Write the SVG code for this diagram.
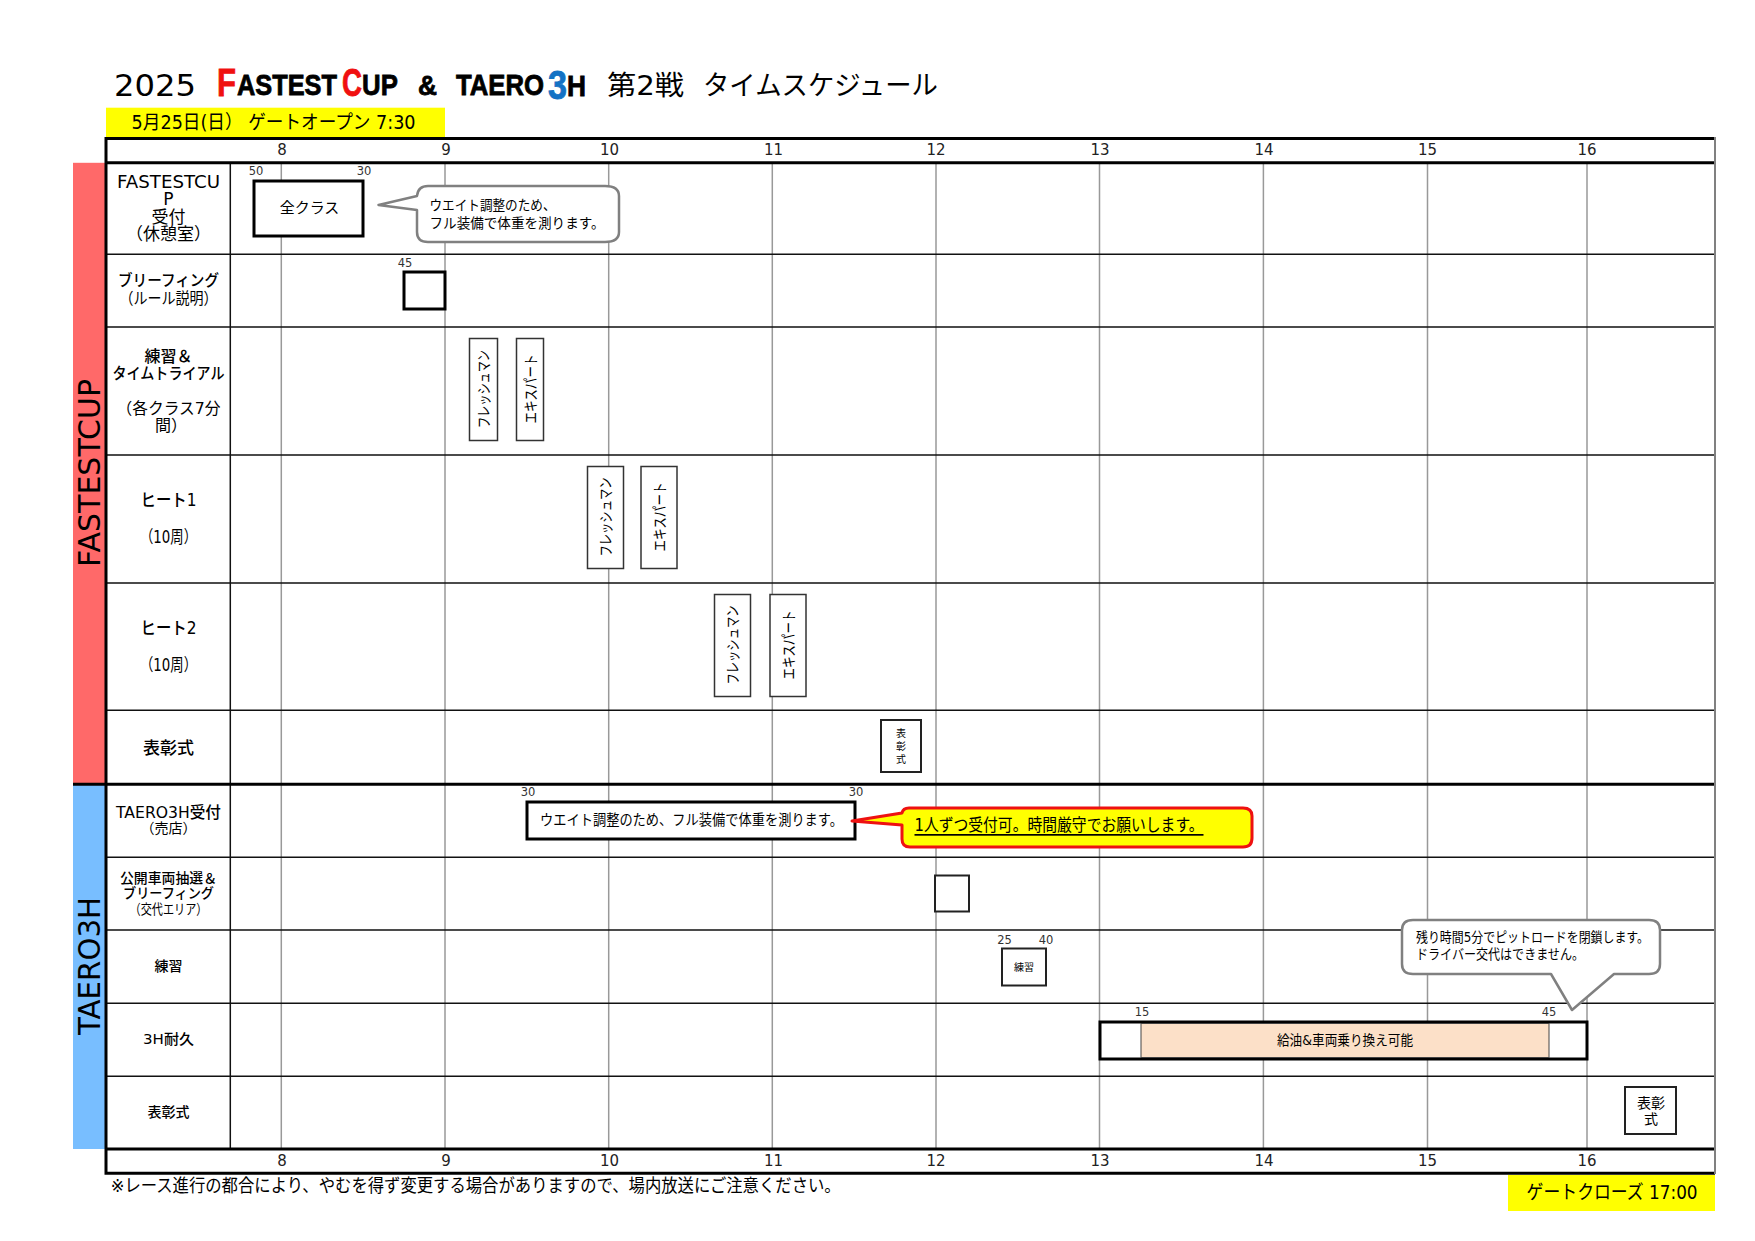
<svg xmlns="http://www.w3.org/2000/svg" width="1755" height="1241" viewBox="0 0 1755 1241">
<style>
text{font-family:"DejaVu Sans","Noto Sans CJK JP",sans-serif;fill:#000;dominant-baseline:central}
.c{text-anchor:middle}
.hr{font-size:15px;text-anchor:middle;fill:#222}
.m{font-size:11.5px;text-anchor:middle;fill:#333}
.lab{font-size:17px;text-anchor:middle}
.labb{font-size:16px;text-anchor:middle;font-weight:500}
.sm{font-size:14px;text-anchor:middle}
.v{font-size:15px;text-anchor:middle}
.row{stroke:#111;stroke-width:1.5;fill:none}
.hg{stroke:#999;stroke-width:1.5;fill:none}
.th{stroke:#000;stroke-width:3;fill:none}
.b3{fill:#fff;stroke:#000;stroke-width:3}
.b1{fill:#fff;stroke:#333;stroke-width:1.5}
.b2{fill:#fff;stroke:#222;stroke-width:2}
.call{fill:#fff;stroke:#808080;stroke-width:2.5;stroke-linejoin:round}
.tt{font-family:"Liberation Sans",sans-serif;font-weight:700;stroke:#000;stroke-width:.8}
</style>
<rect width="1755" height="1241" fill="#fff"/>
<g id="title">
<text x="114" y="85" font-size="30" textLength="82" lengthAdjust="spacingAndGlyphs">2025</text>
<text x="217" y="83" class="tt" font-size="38" style="fill:#f01010;stroke:#f01010" textLength="19" lengthAdjust="spacingAndGlyphs">F</text>
<text transform="translate(237 85) scale(.845 1)" class="tt" font-size="30">ASTEST</text>
<text x="342" y="83" class="tt" font-size="38" style="fill:#f01010;stroke:#f01010" textLength="20" lengthAdjust="spacingAndGlyphs">C</text>
<text transform="translate(362 85) scale(.86 1)" class="tt" font-size="30">UP</text>
<text x="418" y="85" class="tt" font-size="28" textLength="19" lengthAdjust="spacingAndGlyphs">&amp;</text>
<text transform="translate(456 85) scale(.857 1)" class="tt" font-size="30">TAERO</text>
<text x="548" y="85" class="tt" font-size="40" style="fill:#1472c4;stroke:#1472c4" textLength="19" lengthAdjust="spacingAndGlyphs">3</text>
<text x="567" y="85" class="tt" font-size="30" textLength="19" lengthAdjust="spacingAndGlyphs">H</text>
<text x="607" y="85" font-size="27" textLength="77" lengthAdjust="spacingAndGlyphs">第2戦</text>
<text x="703" y="85" font-size="27" textLength="235" lengthAdjust="spacingAndGlyphs">タイムスケジュール</text>
</g>
<g id="gate-open">
<rect x="106" y="107.7" width="339" height="30.3" fill="#ff0"/>
<text x="131.6" y="122" font-size="19" textLength="284" lengthAdjust="spacingAndGlyphs">5月25日(日） ゲートオープン 7:30</text>
</g>
<g id="gate-close">
<rect x="1508" y="1175" width="207" height="36" fill="#ff0"/>
<text x="1526.6" y="1192" font-size="19" textLength="171" lengthAdjust="spacingAndGlyphs">ゲートクローズ 17:00</text>
</g>
<g id="side-fastestcup">
<rect x="73" y="162.8" width="33" height="621.5" fill="#ff6969"/>
<text transform="translate(89 473) rotate(-90)" class="c" font-size="30" textLength="188" lengthAdjust="spacingAndGlyphs">FASTESTCUP</text>
</g>
<g id="side-taero3h">
<rect x="73" y="784.3" width="33" height="364.7" fill="#78beff"/>
<text transform="translate(89 966) rotate(-90)" class="c" font-size="30" textLength="138" lengthAdjust="spacingAndGlyphs">TAERO3H</text>
</g>
<g id="grid">
<path class="hg" d="M281.3 162V1149M445 162V1149M608.7 162V1149M772.3 162V1149M936 162V1149M1099.5 162V1149M1263.4 162V1149M1427.5 162V1149M1587 162V1149"/>
<path class="row" d="M106 254.3H1714M106 326.9H1714M106 454.9H1714M106 582.9H1714M106 710.3H1714M106 857.3H1714M106 930H1714M106 1003.3H1714M106 1076.3H1714M230.3 162V1149"/>
<path class="th" d="M1715 138.5H106V1173.3H1715M106 162.8H1715M73 784.3H1715M106 1149H1715"/>
<path d="M1715 137V1174" stroke="#808080" stroke-width="2" fill="none"/>
</g>
<g id="hours-top">
<text class="hr" x="282" y="150">8</text><text class="hr" x="446" y="150">9</text><text class="hr" x="609.5" y="150">10</text><text class="hr" x="773.5" y="150">11</text><text class="hr" x="936" y="150">12</text><text class="hr" x="1100" y="150">13</text><text class="hr" x="1264" y="150">14</text><text class="hr" x="1427.5" y="150">15</text><text class="hr" x="1587" y="150">16</text>
</g>
<g id="hours-bottom">
<text class="hr" x="282" y="1161">8</text><text class="hr" x="446" y="1161">9</text><text class="hr" x="609.5" y="1161">10</text><text class="hr" x="773.5" y="1161">11</text><text class="hr" x="936" y="1161">12</text><text class="hr" x="1100" y="1161">13</text><text class="hr" x="1264" y="1161">14</text><text class="hr" x="1427.5" y="1161">15</text><text class="hr" x="1587" y="1161">16</text>
</g>
<g id="row-reception">
<text class="lab" x="168.5" y="181.5" textLength="103" lengthAdjust="spacingAndGlyphs">FASTESTCU</text>
<text class="lab" x="168.5" y="199">P</text>
<text class="lab" x="168.5" y="216.5">受付</text>
<text class="lab" x="168.5" y="233.5">（休憩室）</text>
</g>
<g id="row-briefing">
<text class="labb" x="168.5" y="280.5" textLength="101" lengthAdjust="spacingAndGlyphs">ブリーフィング</text>
<text class="labb" style="font-weight:400" x="168.5" y="298.5" textLength="98" lengthAdjust="spacingAndGlyphs">（ルール説明）</text>
</g>
<g id="row-practice">
<text class="labb" x="168.5" y="356.5">練習＆</text>
<text class="labb" x="168.5" y="373.5" textLength="112" lengthAdjust="spacingAndGlyphs">タイムトライアル</text>
<text class="labb" style="font-weight:400" x="168.5" y="408" textLength="104" lengthAdjust="spacingAndGlyphs">（各クラス7分</text>
<text class="labb" style="font-weight:400" x="171" y="425">間）</text>
</g>
<g id="row-heat1">
<text class="lab" style="font-weight:500" x="168.5" y="500" textLength="56" lengthAdjust="spacingAndGlyphs">ヒート1</text>
<text class="lab" x="168.5" y="537" textLength="57" lengthAdjust="spacingAndGlyphs">（10周）</text>
</g>
<g id="row-heat2">
<text class="lab" style="font-weight:500" x="168.5" y="628" textLength="56" lengthAdjust="spacingAndGlyphs">ヒート2</text>
<text class="lab" x="168.5" y="665" textLength="57" lengthAdjust="spacingAndGlyphs">（10周）</text>
</g>
<g id="row-award1">
<text class="lab" style="font-weight:500" x="168.5" y="748">表彰式</text>
</g>
<g id="row-taero-reception">
<text class="labb" x="168.5" y="812" textLength="105" lengthAdjust="spacingAndGlyphs">TAERO3H受付</text>
<text class="sm" x="168.5" y="828">（売店）</text>
</g>
<g id="row-lottery">
<text class="sm" style="font-weight:500" x="168.5" y="877.5" textLength="97" lengthAdjust="spacingAndGlyphs">公開車両抽選＆</text>
<text class="sm" style="font-weight:500" x="168.5" y="893" textLength="91" lengthAdjust="spacingAndGlyphs">ブリーフィング</text>
<text class="sm" x="168.5" y="909" textLength="78" lengthAdjust="spacingAndGlyphs">（交代エリア）</text>
</g>
<g id="row-taero-practice"><text class="sm" style="font-weight:500" x="168.5" y="966">練習</text></g>
<g id="row-endurance"><text class="sm" style="font-weight:500" x="168.5" y="1039" textLength="51" lengthAdjust="spacingAndGlyphs">3H耐久</text></g>
<g id="row-award2"><text class="sm" style="font-weight:500" x="168.5" y="1112">表彰式</text></g>
<g id="event-all-class">
<rect class="b3" x="254" y="181" width="109" height="55"/>
<text class="c" font-size="15" x="309.5" y="207.5">全クラス</text>
<text class="m" x="256" y="171">50</text><text class="m" x="364" y="171">30</text>
</g>
<g id="callout-weight">
<path class="call" d="M378.5 205L417 196Q418 186 428 186H605Q619 186 619 196V232Q619 242 605 242H428Q417 242 417 232V210Z"/>
<text x="429.5" y="204.5" font-size="14" textLength="126" lengthAdjust="spacingAndGlyphs">ウエイト調整のため、</text>
<text x="429.5" y="222.5" font-size="14" textLength="175" lengthAdjust="spacingAndGlyphs">フル装備で体重を測ります。</text>
</g>
<g id="event-briefing">
<rect class="b3" x="404" y="272" width="41" height="37"/>
<text class="m" x="405" y="262.5">45</text>
</g>
<g id="event-practice-fresh"><rect class="b1" x="469.5" y="338.5" width="28" height="102"/><text class="v" transform="translate(483.5 389) rotate(-90)" textLength="78" lengthAdjust="spacingAndGlyphs">フレッシュマン</text></g>
<g id="event-practice-expert"><rect class="b1" x="516.5" y="338.5" width="27" height="102"/><text class="v" transform="translate(530.5 389) rotate(-90)" textLength="69" lengthAdjust="spacingAndGlyphs">エキスパート</text></g>
<g id="event-heat1-fresh"><rect class="b1" x="587.5" y="466.5" width="36" height="102"/><text class="v" transform="translate(605.5 517) rotate(-90)" textLength="79" lengthAdjust="spacingAndGlyphs">フレッシュマン</text></g>
<g id="event-heat1-expert"><rect class="b1" x="641" y="466.5" width="36" height="102"/><text class="v" transform="translate(659.5 517) rotate(-90)" textLength="69" lengthAdjust="spacingAndGlyphs">エキスパート</text></g>
<g id="event-heat2-fresh"><rect class="b1" x="714.5" y="594.5" width="36" height="102"/><text class="v" transform="translate(733 645) rotate(-90)" textLength="79" lengthAdjust="spacingAndGlyphs">フレッシュマン</text></g>
<g id="event-heat2-expert"><rect class="b1" x="770" y="594.5" width="36" height="102"/><text class="v" transform="translate(789 645) rotate(-90)" textLength="69" lengthAdjust="spacingAndGlyphs">エキスパート</text></g>
<g id="event-award1">
<rect class="b2" x="881" y="720" width="40" height="52"/>
<text class="c" font-size="10" x="901" y="733">表</text><text class="c" font-size="10" x="901" y="746">彰</text><text class="c" font-size="10" x="901" y="759">式</text>
</g>
<g id="event-taero-reception">
<rect class="b3" x="527" y="802" width="328" height="37"/>
<text x="540" y="820" font-size="14.5" textLength="303" lengthAdjust="spacingAndGlyphs">ウエイト調整のため、フル装備で体重を測ります。</text>
<text class="m" x="528" y="792">30</text><text class="m" x="856" y="792">30</text>
</g>
<g id="callout-yellow">
<path d="M852 821L902 813Q903 808 909 808H1243Q1252 808 1252 816V838Q1252 847 1243 847H910Q902 847 902 839V825Z" fill="#ff0" stroke="#ee1111" stroke-width="3" stroke-linejoin="round"/>
<text x="914.5" y="825" font-size="17" text-decoration="underline" textLength="289" lengthAdjust="spacingAndGlyphs">1人ずつ受付可。時間厳守でお願いします。</text>
</g>
<g id="event-lottery"><rect class="b2" x="935" y="875.5" width="34" height="36"/></g>
<g id="event-taero-practice">
<rect class="b2" x="1002" y="948.5" width="44" height="37"/>
<text class="c" font-size="10" x="1024" y="967.5">練習</text>
<text class="m" x="1004.5" y="940">25</text><text class="m" x="1046" y="940">40</text>
</g>
<g id="event-endurance">
<rect class="b3" x="1100" y="1022" width="487" height="37"/>
<rect x="1141" y="1023.5" width="408" height="34" fill="#fce0c8" stroke="#444" stroke-width="1"/>
<text class="c" font-size="14" x="1345" y="1040" textLength="136" lengthAdjust="spacingAndGlyphs">給油&amp;車両乗り換え可能</text>
<text class="m" x="1142" y="1012">15</text><text class="m" x="1549" y="1012">45</text>
</g>
<g id="callout-pit">
<path class="call" d="M1413 920H1649Q1660 920 1660 930V964Q1660 974 1649 974H1614L1572 1010L1551 974H1413Q1402 974 1402 964V930Q1402 920 1413 920Z"/>
<text x="1416" y="937" font-size="14" textLength="233" lengthAdjust="spacingAndGlyphs">残り時間5分でピットロードを閉鎖します。</text>
<text x="1416" y="954" font-size="14" textLength="168" lengthAdjust="spacingAndGlyphs">ドライバー交代はできません。</text>
</g>
<g id="event-award2">
<rect class="b2" x="1625" y="1087" width="51" height="47"/>
<text class="c" font-size="14" x="1651" y="1102.5">表彰</text><text class="c" font-size="14" x="1651" y="1118.5">式</text>
</g>
<g id="note"><text x="110.7" y="1185" font-size="18" textLength="730" lengthAdjust="spacingAndGlyphs">※レース進行の都合により、やむを得ず変更する場合がありますので、場内放送にご注意ください。</text></g>
</svg>
